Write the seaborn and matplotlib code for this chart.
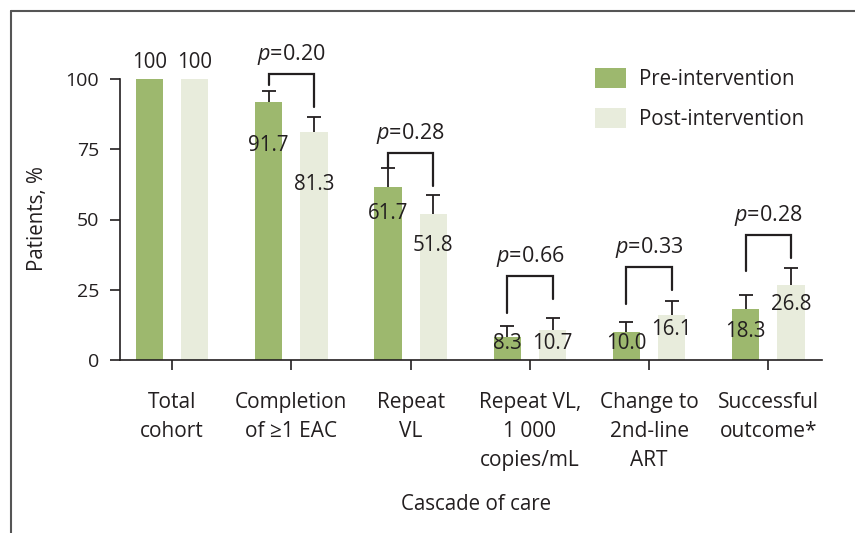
import numpy as np
import pandas as pd
import matplotlib
matplotlib.use("Agg")
import matplotlib.pyplot as plt
import seaborn as sns
from matplotlib.lines import Line2D
from matplotlib.patches import Patch

# ---------------- data ----------------
stages = ["Total\ncohort", "Completion\nof \u22651 EAC", "Repeat\nVL",
          "Repeat VL,\n1 000\ncopies/mL", "Change to\n2nd-line\nART",
          "Successful\noutcome*"]
groups = ["Pre-intervention", "Post-intervention"]
pre_values = [100, 91.7, 61.7, 8.3, 10.0, 18.3]
post_values = [100, 81.3, 51.8, 10.7, 16.1, 26.8]
pre_err = [0, 4.1, 6.7, 3.8, 3.6, 4.8]
post_err = [0, 5.3, 6.9, 4.1, 4.9, 5.8]
p_values = [None, "0.20", "0.28", "0.66", "0.33", "0.28"]
bracket_top = [None, 101.8, 73.5, 29.9, 33.2, 44.5]
bracket_left_end = [None, 97.9, 68.5, 16.8, 20.1, 31.8]
bracket_right_end = [None, 90.1, 62.0, 21.7, 24.9, 36.3]
pre_label_y = [105.7, 76.5, 52.2, 5.9, 5.9, 10.1]
post_label_y = [105.7, 62.3, 40.9, 5.9, 10.7, 19.6]
y_ticks = [0, 25, 50, 75, 100]

# ---------------- style ----------------
sns.set_theme(style="white")
FONT = "Open Sans"
plt.rcParams["font.family"] = [FONT, "DejaVu Sans"]
plt.rcParams["mathtext.fontset"] = "custom"
plt.rcParams["mathtext.rm"] = FONT
plt.rcParams["mathtext.it"] = FONT + ":italic"
TXT = "#231f20"
PRE_C = "#9db86e"
POST_C = "#e8ecdc"
FS = 14

df = pd.DataFrame({
    "stage": stages * 2,
    "group": [groups[0]] * len(stages) + [groups[1]] * len(stages),
    "value": pre_values + post_values,
})

fig = plt.figure(figsize=(8.55, 5.33), dpi=100)
ax = fig.add_axes([120 / 855, 1 - 360 / 533, 702 / 855, 281 / 533])

sns.barplot(data=df, x="stage", y="value", hue="group", order=stages,
            hue_order=groups, palette={groups[0]: PRE_C, groups[1]: POST_C},
            saturation=1, width=0.76, gap=0.40, linewidth=0, legend=False,
            errorbar=None, ax=ax)

pre_x = [b.get_x() + b.get_width() / 2 for b in ax.containers[0]]
post_x = [b.get_x() + b.get_width() / 2 for b in ax.containers[1]]

# error bars (one-sided, upward, cap on top only)
for xs, vals, errs in [(pre_x, pre_values, pre_err), (post_x, post_values, post_err)]:
    for x, v, e in zip(xs[1:], vals[1:], errs[1:]):
        ax.plot([x, x], [v, v + e], color=TXT, lw=1.3, clip_on=False, zorder=3,
                solid_capstyle="butt")
        ax.plot([x], [v + e], marker="_", markersize=9.5, mew=1.3, color=TXT,
                clip_on=False, zorder=3)

def fmt(v):
    return "100" if v == 100 else f"{v:.1f}"

for i in range(len(stages)):
    ax.text(pre_x[i], pre_label_y[i], fmt(pre_values[i]), ha="center",
            va="center", fontsize=FS + 0.8, color=TXT, clip_on=False, zorder=4)
    ax.text(post_x[i], post_label_y[i], fmt(post_values[i]), ha="center",
            va="center", fontsize=FS + 0.8, color=TXT, clip_on=False, zorder=4)
    if p_values[i] is not None:
        ax.plot([pre_x[i], pre_x[i], post_x[i], post_x[i]],
                [bracket_left_end[i], bracket_top[i], bracket_top[i], bracket_right_end[i]],
                color=TXT, lw=1.6, clip_on=False, solid_joinstyle="miter")
        ax.text((pre_x[i] + post_x[i]) / 2, bracket_top[i] + 7,
                f"$p$=" + p_values[i], ha="center", va="center",
                fontsize=15.5, color=TXT, clip_on=False)

ax.set_ylim(0, 100)
ax.set_xlim(-0.437, 5.45)
ax.set_yticks(y_ticks)
ax.set_yticklabels([str(t) for t in y_ticks])
ax.set_xlabel("")
ax.set_ylabel("")
sns.despine(ax=ax)
for s in ["left", "bottom"]:
    ax.spines[s].set_color(TXT)
    ax.spines[s].set_linewidth(1.2)
ax.tick_params(axis="both", which="both", direction="out", length=7.2,
               width=1.2, color=TXT, labelcolor=TXT, labelsize=FS,
               left=True, bottom=True)
ax.tick_params(axis="x", pad=16, labelsize=15)
ax.tick_params(axis="y", pad=8)
for lab in ax.get_xticklabels():
    lab.set_linespacing(1.5)
    lab.set_ha("center")

fig.text(37 / 855, 1 - 219 / 533, "Patients, %", rotation=90, ha="center",
         va="center", fontsize=14.8, color=TXT)
fig.text(476 / 855, 1 - 505 / 533, "Cascade of care", ha="center",
         va="center", fontsize=14.8, color=TXT)

handles = [Patch(facecolor=PRE_C, edgecolor="none"),
           Patch(facecolor=POST_C, edgecolor="none")]
ax.legend(handles, groups, loc="upper left", frameon=False,
          bbox_to_anchor=(595 / 855, 1 - 68 / 533), bbox_transform=fig.transFigure,
          borderaxespad=0, borderpad=0, fontsize=14.8, handlelength=1.5,
          handleheight=1.12, handletextpad=0.63, labelspacing=0.9,
          labelcolor=TXT)

# outer frame (top and left lines)
fig.add_artist(Line2D([11 / 855, 1], [1 - 11 / 533, 1 - 11 / 533],
                      transform=fig.transFigure, color="#555555", lw=1.5))
fig.add_artist(Line2D([11 / 855, 11 / 855], [0, 1 - 11 / 533],
                      transform=fig.transFigure, color="#555555", lw=1.5))

fig.savefig("out.png", dpi=100)
